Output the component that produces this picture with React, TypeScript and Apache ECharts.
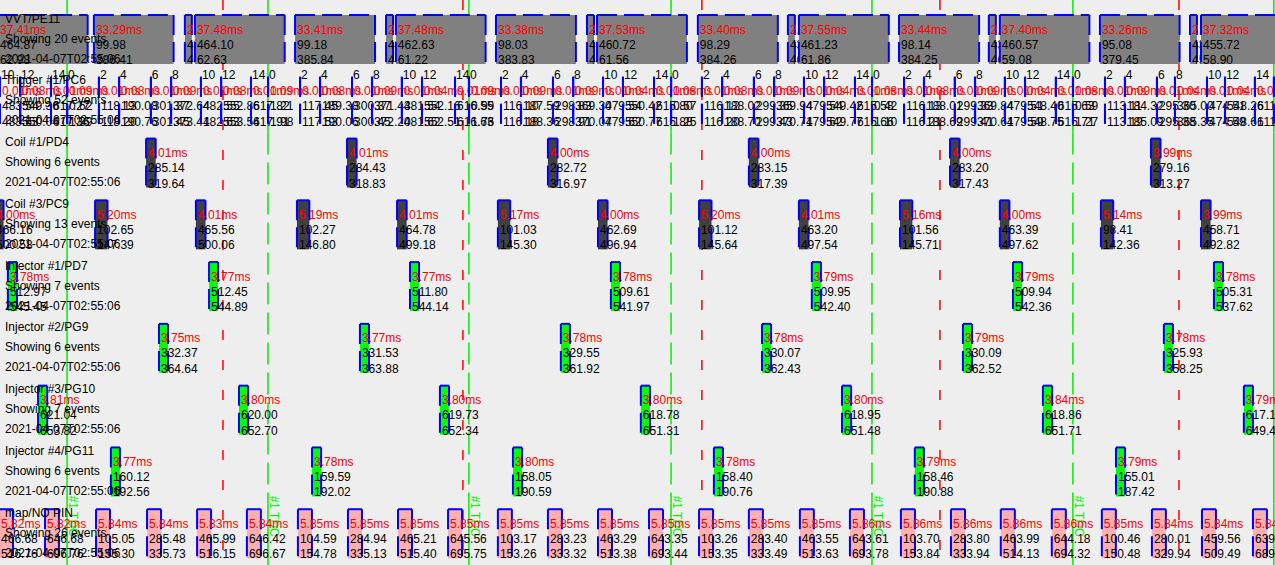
import React, { useEffect, useRef } from 'react';
import * as echarts from 'echarts';

// ---------- data ----------
const rowNames = [
  'VVT/PE11',
  'Trigger #1/PC6',
  'Coil #1/PD4',
  'Coil #3/PC9',
  'Injector #1/PD7',
  'Injector #2/PG9',
  'Injector #3/PG10',
  'Injector #4/PG11',
  'map/NO PIN',
];
const rowEventCounts = [20, 52, 6, 13, 7, 6, 7, 6, 26];
const captureTime = '2021-04-07T02:55:06';
const timeWindowMs = [0, 532.4];
const tdcTimesMs = [28.0, 111.9, 195.8, 280.2, 364.1, 448.0, 531.9];
const tdcLabel = '#1 TDC';
const timeMarkersMs = [93.1, 193.3, 293.1, 392.5, 492.3];

// [start ms, duration ms, start angle, end angle]
const vvtEvents = [
  [-0.8, 37.41, 464.87, 62.98],
  [39.2, 33.29, 99.98, 386.41],
  [77.2, 2.92, 439.52, 464.1],
  [81.4, 37.48, 464.1, 62.63],
  [123.2, 33.41, 99.18, 385.84],
  [161.2, 2.91, 438.04, 462.63],
  [165.3, 37.48, 462.63, 61.22],
  [207.1, 33.38, 98.03, 383.83],
  [245.1, 2.93, 436.1, 460.72],
  [249.3, 37.53, 460.72, 61.56],
  [291.4, 33.4, 98.29, 384.26],
  [329.0, 2.92, 436.55, 461.23],
  [333.6, 37.55, 461.23, 61.86],
  [375.4, 33.44, 98.14, 384.25],
  [412.9, 2.93, 435.87, 460.57],
  [417.5, 37.4, 460.57, 59.08],
  [459.3, 33.26, 95.08, 379.45],
  [496.9, 2.92, 431.12, 455.72],
  [501.5, 37.32, 455.72, 58.9],
];

// [start ms, duration ms, event index, start angle, end angle]
const triggerEvents = [
  [0.0, 0.01, 10, 483.54, 483.63],
  [8.4, 0.08, 12, 549.36, 550.04],
  [21.3, 0.01, 14, 617.27, 617.36],
  [28.0, 0.09, 0, 0.62, 1.39],
  [41.3, 0.01, 2, 118.13, 118.2],
  [49.7, 0.08, 4, 190.08, 190.76],
  [63.0, 0.01, 6, 301.37, 301.45],
  [71.4, 0.09, 8, 372.64, 373.41],
  [83.9, 0.01, 10, 482.55, 482.63],
  [92.3, 0.08, 12, 552.86, 553.54],
  [104.8, 0.01, 14, 617.82, 617.91],
  [111.9, 0.09, 0, 1.21, 1.98],
  [125.3, 0.01, 2, 117.45, 117.53],
  [133.6, 0.08, 4, 189.38, 190.06],
  [147.0, 0.01, 6, 300.37, 300.45],
  [155.3, 0.09, 8, 371.43, 372.2],
  [167.8, 0.01, 10, 481.54, 481.62],
  [176.2, 0.04, 12, 552.16, 552.51],
  [190.0, 0.01, 14, 616.55, 616.63],
  [195.8, 0.09, 0, 0.99, 1.76],
  [209.2, 0.01, 2, 116.1, 116.18],
  [217.5, 0.09, 4, 187.59, 188.36],
  [230.9, 0.01, 6, 298.83, 298.91],
  [239.3, 0.09, 8, 369.3, 370.07],
  [251.8, 0.01, 10, 479.54, 479.62],
  [260.1, 0.04, 12, 550.42, 550.77],
  [273.1, 0.01, 14, 615.8, 615.88],
  [280.2, 0.08, 0, 0.57, 1.25],
  [293.1, 0.01, 2, 116.12, 116.2],
  [301.5, 0.08, 4, 188.02, 188.7],
  [314.8, 0.01, 6, 299.35, 299.43],
  [323.2, 0.09, 8, 369.94, 370.71],
  [335.7, 0.01, 10, 479.54, 479.62],
  [344.1, 0.04, 12, 549.42, 549.77],
  [357.0, 0.01, 14, 615.58, 615.66],
  [364.1, 0.08, 0, 0.42, 1.1],
  [377.5, 0.01, 2, 116.13, 116.21],
  [385.8, 0.08, 4, 188.01, 188.69],
  [398.7, 0.01, 6, 299.33, 299.41],
  [407.1, 0.09, 8, 369.84, 370.61],
  [419.6, 0.01, 10, 479.51, 479.59],
  [428.0, 0.04, 12, 548.4, 548.75],
  [440.9, 0.01, 14, 615.63, 615.71],
  [448.0, 0.08, 0, 0.59, 1.27],
  [461.4, 0.01, 2, 113.11, 113.19],
  [469.7, 0.09, 4, 184.32, 185.09],
  [483.1, 0.01, 6, 295.3, 295.38],
  [490.6, 0.04, 8, 365.0, 365.35],
  [504.0, 0.01, 10, 474.51, 474.59],
  [511.5, 0.04, 12, 548.26, 548.61],
  [524.0, 0.01, 14, 611.65, 611.73],
  [531.9, 0.08, 0, 0.36, 1.04],
];

const coil1Events = [
  [61.0, 4.01, 285.14, 319.64],
  [144.9, 4.01, 284.43, 318.83],
  [228.8, 4.0, 282.72, 316.97],
  [312.7, 4.0, 283.15, 317.39],
  [396.7, 4.0, 283.2, 317.43],
  [480.6, 3.99, 279.16, 313.27],
];

const coil3Events = [
  [-2.5, 4.0, 466.16, 500.58],
  [39.7, 5.2, 102.65, 147.39],
  [81.8, 4.01, 465.56, 500.06],
  [124.0, 5.19, 102.27, 146.8],
  [165.8, 4.01, 464.78, 499.18],
  [207.9, 5.17, 101.03, 145.3],
  [249.7, 4.0, 462.69, 496.94],
  [291.9, 5.2, 101.12, 145.64],
  [333.6, 4.01, 463.2, 497.54],
  [375.8, 5.16, 101.56, 145.71],
  [417.5, 4.0, 463.39, 497.62],
  [459.7, 5.14, 98.41, 142.36],
  [501.5, 3.99, 458.71, 492.82],
];

const inj1Events = [
  [3.3, 3.78, 512.97, 545.45],
  [87.3, 3.77, 512.45, 544.89],
  [171.2, 3.77, 511.8, 544.14],
  [255.1, 3.78, 509.61, 541.97],
  [339.0, 3.79, 509.95, 542.4],
  [423.0, 3.79, 509.94, 542.36],
  [506.9, 3.78, 505.31, 537.62],
];

const inj2Events = [
  [66.4, 3.75, 332.37, 364.64],
  [150.3, 3.77, 331.53, 363.88],
  [234.2, 3.78, 329.55, 361.92],
  [318.2, 3.78, 330.07, 362.43],
  [402.1, 3.79, 330.09, 362.52],
  [486.0, 3.78, 325.93, 358.25],
];

const inj3Events = [
  [15.9, 3.81, 621.04, 653.82],
  [99.8, 3.8, 620.0, 652.7],
  [183.7, 3.8, 619.73, 652.34],
  [267.6, 3.8, 618.78, 651.31],
  [351.6, 3.8, 618.95, 651.48],
  [435.5, 3.84, 618.86, 651.71],
  [519.4, 3.79, 617.18, 649.47],
];

const inj4Events = [
  [46.3, 3.77, 160.12, 192.56],
  [130.3, 3.78, 159.59, 192.02],
  [214.2, 3.8, 158.05, 190.59],
  [298.1, 3.78, 158.4, 190.76],
  [382.0, 3.79, 158.46, 190.88],
  [466.0, 3.79, 155.01, 187.42],
];

const mapEvents = [
  [-0.4, 5.82, 466.68, 516.76],
  [18.8, 5.82, 646.68, 696.76],
  [40.1, 5.84, 105.05, 155.3],
  [61.4, 5.84, 285.48, 335.73],
  [82.3, 5.83, 465.99, 516.15],
  [103.1, 5.84, 646.42, 696.67],
  [124.4, 5.85, 104.59, 154.78],
  [145.3, 5.85, 284.94, 335.13],
  [166.2, 5.85, 465.21, 515.4],
  [187.1, 5.85, 645.56, 695.75],
  [207.9, 5.85, 103.17, 153.26],
  [228.8, 5.85, 283.23, 333.32],
  [249.7, 5.85, 463.29, 513.38],
  [271.0, 5.85, 643.35, 693.44],
  [291.9, 5.85, 103.26, 153.35],
  [312.7, 5.85, 283.4, 333.49],
  [334.0, 5.85, 463.55, 513.63],
  [354.9, 5.86, 643.61, 693.78],
  [376.2, 5.86, 103.7, 153.84],
  [397.1, 5.86, 283.8, 333.94],
  [417.9, 5.86, 463.99, 514.13],
  [439.2, 5.86, 644.18, 694.32],
  [460.1, 5.85, 100.46, 150.48],
  [481.0, 5.84, 280.01, 329.94],
  [501.9, 5.84, 459.56, 509.49],
  [523.2, 5.84, 639.63, 689.72],
];

// ---------- styles ----------
const rowFillColors = ['#808080', '#808080', '#404040', '#404040', '#00ff00', '#00ff00', '#00ff00', '#00ff00', '#ffafaf'];
const FONT_FAMILY = '"Liberation Sans", Arial, sans-serif';
const BOX_OFFSET = 6;
const BOX_H = 49;

function txt(s: string, x: number, y: number, color: string) {
  return {
    type: 'text',
    style: { text: s, x, y, fill: color, fontSize: 12, fontFamily: FONT_FAMILY, align: 'left', verticalAlign: 'middle' },
  };
}

function makeEventRender(fill: string, withIndex: boolean) {
  return (params: any, api: any) => {
    const start = api.value(0) as number;
    const row = api.value(1) as number;
    const dur = api.value(2) as number;
    const a1 = api.value(3) as number;
    const a2 = api.value(4) as number;
    const band = api.size([0, 1])[1];
    const p0 = api.coord([start, row]);
    const x0 = p0[0];
    const x1 = api.coord([start + dur, row])[0];
    const top = p0[1] - band / 2 + BOX_OFFSET;
    const bottom = top + BOX_H;
    const ln = (xa: number, ya: number, xb: number, yb: number) => ({
      type: 'line',
      shape: { x1: xa, y1: ya, x2: xb, y2: yb },
      style: { stroke: '#0000ff', lineWidth: 2, lineDash: [20, 7] },
    });
    const children: any[] = [
      { type: 'rect', shape: { x: x0, y: top, width: Math.max(x1 - x0, 0), height: BOX_H }, style: { fill } },
      ln(x0, top, x0, bottom),
      ln(x0, top, x1, top),
      ln(x1, top, x1, bottom),
      txt(dur.toFixed(2) + 'ms', x0 + 2, top + 14.5, '#ff0000'),
      txt(a1.toFixed(2), x0 + 2, top + 29.5, '#000000'),
      txt(a2.toFixed(2), x0 + 2, top + 45, '#000000'),
    ];
    if (withIndex) {
      children.push(txt(String(api.value(5)), x0 + 1, top - 1.5, '#000000'));
    }
    return { type: 'group', children };
  };
}

function eventSeries(rowIdx: number, events: number[][]) {
  return {
    type: 'custom',
    name: rowNames[rowIdx],
    renderItem: makeEventRender(rowFillColors[rowIdx], false),
    encode: { x: 0, y: 1 },
    data: events.map((e) => [e[0], rowIdx, e[1], e[2], e[3]]),
    silent: true,
  };
}

export default function App() {
  const ref = useRef<HTMLDivElement>(null);
  useEffect(() => {
    if (!ref.current) return;
    const chart = echarts.init(ref.current, undefined, { renderer: 'svg' });
    const option: any = {
      animation: false,
      backgroundColor: '#eeeeee',
      grid: { left: 0, right: 0, top: 9, height: 558, containLabel: false },
      xAxis: { type: 'value', min: timeWindowMs[0], max: timeWindowMs[1], show: false },
      yAxis: { type: 'category', data: rowNames, inverse: true, show: false },
      series: [
        {
          type: 'custom',
          name: 'time markers',
          silent: true,
          encode: { x: 0, y: 1 },
          data: timeMarkersMs.map((t) => [t, 0]),
          renderItem: (params: any, api: any) => {
            const x = api.coord([api.value(0), 0])[0];
            return {
              type: 'line',
              shape: { x1: x, y1: 0, x2: x, y2: api.getHeight() },
              style: { stroke: '#ff0000', lineWidth: 1.5, lineDash: [10, 20] },
            };
          },
        },
        {
          type: 'custom',
          name: 'TDC',
          silent: true,
          encode: { x: 0, y: 1 },
          data: tdcTimesMs.map((t) => [t, 0]),
          renderItem: (params: any, api: any) => {
            const x = api.coord([api.value(0), 0])[0];
            const band = api.size([0, 1])[1];
            const gridTop = params.coordSys.y;
            const H = api.getHeight();
            const solid = params.dataIndex === 0 || params.dataIndex === tdcTimesMs.length - 1;
            const dashStart = gridTop + band * 2;
            const dashEnd = gridTop + band * 8;
            const st = { stroke: '#00ee00', lineWidth: 1.5 };
            return {
              type: 'group',
              children: [
                { type: 'line', shape: { x1: x, y1: 0, x2: x, y2: dashStart }, style: st },
                {
                  type: 'line',
                  shape: { x1: x, y1: dashStart, x2: x, y2: dashEnd },
                  style: solid ? st : { ...st, lineDash: [22, 8] },
                },
                { type: 'line', shape: { x1: x, y1: dashEnd, x2: x, y2: H }, style: st },
                {
                  type: 'text',
                  x: x + 6,
                  y: dashEnd + BOX_OFFSET + 7,
                  rotation: -Math.PI / 2,
                  style: {
                    text: tdcLabel,
                    fill: '#00ee00',
                    fontSize: 12,
                    fontFamily: FONT_FAMILY,
                    align: 'center',
                    verticalAlign: 'middle',
                  },
                },
              ],
            };
          },
        },
        eventSeries(0, vvtEvents),
        {
          type: 'custom',
          name: rowNames[1],
          silent: true,
          renderItem: makeEventRender(rowFillColors[1], true),
          encode: { x: 0, y: 1 },
          data: triggerEvents.map((e) => [e[0], 1, e[1], e[3], e[4], e[2]]),
        },
        eventSeries(2, coil1Events),
        eventSeries(3, coil3Events),
        eventSeries(4, inj1Events),
        eventSeries(5, inj2Events),
        eventSeries(6, inj3Events),
        eventSeries(7, inj4Events),
        eventSeries(8, mapEvents),
        {
          type: 'custom',
          name: 'row labels',
          silent: true,
          encode: { x: 0, y: 1 },
          data: rowNames.map((n, i) => [timeWindowMs[0], i]),
          renderItem: (params: any, api: any) => {
            const row = api.value(1) as number;
            const band = api.size([0, 1])[1];
            const p = api.coord([api.value(0), row]);
            const top = p[1] - band / 2 + BOX_OFFSET;
            const x = p[0] + 5;
            return {
              type: 'group',
              children: [
                txt(rowNames[row], x, top + 3.5, '#000000'),
                txt('Showing ' + rowEventCounts[row] + ' events', x, top + 23.5, '#000000'),
                txt(captureTime, x, top + 43.5, '#000000'),
              ],
            };
          },
        },
      ],
    };
    chart.setOption(option);
    return () => {
      chart.dispose();
    };
  }, []);
  return (
    <div
      ref={ref}
      style={{ position: 'fixed', left: 0, top: 0, width: 1275, height: 565, background: '#eeeeee' }}
    />
  );
}
